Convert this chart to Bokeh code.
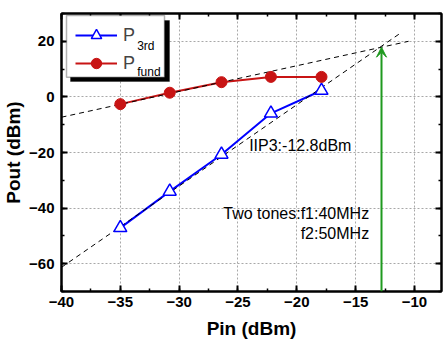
from bokeh.plotting import figure
from bokeh.models import (Range1d, LinearAxis, SingleIntervalTicker, Legend, LegendItem,
                          Label, BoxAnnotation, Arrow, VeeHead, CustomJSTickFormatter)
from bokeh.embed import file_html
from bokeh.resources import INLINE

# Two-tone measurement: input power sweep (dBm)
pin = [-35.0, -30.8, -26.4, -22.2, -17.9]
p_3rd = [-47.1, -34.0, -20.7, -5.9, 2.3]
p_fund = [-2.6, 1.5, 5.3, 7.2, 7.2]

# Extrapolated asymptotes (slope ~1 and ~3) used to find the intercept point
fund_fit_x = [-40.0, -10.5]
fund_fit_y = [-7.3, 20.0]
third_fit_x = [-40.0, -11.1]
third_fit_y = [-61.3, 23.2]

iip3 = -12.8
iip3_text = "IIP3:-12.8dBm"
tone_lines = ["Two tones:f1:40MHz", "f2:50MHz"]

FONT = "Liberation Sans"
BLUE = "#0000ff"
RED = "#c81414"
GREEN = "#1f9a1f"

p = figure(width=444, height=341, output_backend="svg", toolbar_location=None,
           x_range=Range1d(-40, -7.7), y_range=Range1d(-70, 30),
           min_border_left=61, min_border_right=3, min_border_top=13, min_border_bottom=50,
           x_axis_label="Pin (dBm)", y_axis_label="Pout (dBm)")
p.outline_line_color = "black"
p.outline_line_width = 2
p.background_fill_color = "white"
p.border_fill_color = "white"

xt = SingleIntervalTicker(interval=5, num_minor_ticks=2)
yt = SingleIntervalTicker(interval=20, num_minor_ticks=2)
p.xaxis.ticker = xt
p.yaxis.ticker = yt


def style_axis(ax, show_labels=True):
    ax.axis_line_width = 2
    ax.major_tick_in = 6
    ax.major_tick_out = 0
    ax.minor_tick_in = 3
    ax.minor_tick_out = 0
    ax.major_tick_line_width = 2
    ax.minor_tick_line_width = 1.5
    ax.major_label_text_font = FONT
    ax.major_label_text_font_style = "bold"
    ax.major_label_text_font_size = "15px"
    ax.major_label_text_color = "black"
    ax.axis_label_text_font = FONT
    ax.axis_label_text_font_style = "bold"
    ax.axis_label_text_font_size = "19px"
    ax.axis_label_text_color = "black"
    if not show_labels:
        ax.formatter = CustomJSTickFormatter(code="return ''")
        ax.major_label_text_font_size = "0px"
        ax.major_label_standoff = 0


style_axis(p.xaxis[0])
style_axis(p.yaxis[0])
p.xaxis[0].major_label_standoff = 5
p.xaxis[0].axis_label_standoff = 8
p.yaxis[0].major_label_standoff = 7
p.yaxis[0].axis_label_standoff = 2

top_ax = LinearAxis(ticker=SingleIntervalTicker(interval=5, num_minor_ticks=2))
right_ax = LinearAxis(ticker=SingleIntervalTicker(interval=20, num_minor_ticks=2))
style_axis(top_ax, show_labels=False)
style_axis(right_ax, show_labels=False)
p.add_layout(top_ax, "above")
p.add_layout(right_ax, "right")

for g in (p.xgrid[0], p.ygrid[0]):
    g.grid_line_color = "#a8a8a8"
    g.grid_line_dash = "2 2"
    g.grid_line_width = 1

# data lines
l3 = p.line(pin, p_3rd, line_color=BLUE, line_width=2)
lf = p.line(pin, p_fund, line_color=RED, line_width=2)

# extrapolation lines
p.line(fund_fit_x, fund_fit_y, line_color="black", line_width=1, line_dash="5 4")
p.line(third_fit_x, third_fit_y, line_color="black", line_width=1, line_dash="5 4")

s3 = p.scatter(pin, p_3rd, marker="triangle", size=13, line_color=BLUE,
               fill_color="white", line_width=1.5)
sf = p.scatter(pin, p_fund, marker="circle", size=11, line_color=RED, fill_color=RED)

# intercept: fundamental asymptote evaluated at IIP3
slope_f = (fund_fit_y[1] - fund_fit_y[0]) / (fund_fit_x[1] - fund_fit_x[0])
oip3 = fund_fit_y[0] + slope_f * (iip3 - fund_fit_x[0])
p.add_layout(Arrow(end=VeeHead(size=10, fill_color=GREEN, line_color=GREEN, line_width=1),
                   x_start=iip3, y_start=-70, x_end=iip3, y_end=oip3,
                   line_color=GREEN, line_width=2))

p.add_layout(Label(x=-24.05, y=-17.5, text=iip3_text, text_font=FONT,
                   text_font_size="16px", text_baseline="middle", text_color="black"))
p.add_layout(Label(x=-13.85, y=-41.8, text=tone_lines[0], text_font=FONT,
                   text_font_size="16px", text_baseline="middle", text_align="right",
                   text_color="black"))
p.add_layout(Label(x=-13.85, y=-49.1, text=tone_lines[1], text_font=FONT,
                   text_font_size="16px", text_baseline="middle", text_align="right",
                   text_color="black"))

# legend frame with drop shadow (screen units, relative to the plot frame)
FB = 278  # frame height in px
p.add_layout(BoxAnnotation(left=9, right=108, top=FB - 7, bottom=FB - 68,
                           left_units="screen", right_units="screen",
                           top_units="screen", bottom_units="screen",
                           fill_color="black", fill_alpha=1, line_color="black",
                           level="overlay"))
p.add_layout(BoxAnnotation(left=5, right=103, top=FB - 2, bottom=FB - 63.7,
                           left_units="screen", right_units="screen",
                           top_units="screen", bottom_units="screen",
                           fill_color="white", fill_alpha=1, line_color="black",
                           line_width=1.5, level="overlay"))

legend = Legend(items=[LegendItem(label="P", renderers=[l3, s3]),
                       LegendItem(label="P", renderers=[lf, sf])],
                location=(14, FB - 63), padding=0, spacing=2, glyph_width=42,
                glyph_height=26, label_standoff=6, label_text_font=FONT,
                label_text_font_size="18px", border_line_color=None,
                background_fill_alpha=0, margin=0)
p.add_layout(legend)

for txt, yb in (("3rd", FB - 32.3), ("fund", FB - 58.7)):
    p.add_layout(Label(x=75.7, y=yb, x_units="screen", y_units="screen", text=txt,
                       text_font=FONT, text_font_size="12px", level="overlay",
                       text_baseline="alphabetic", text_color="black"))

open("out.html", "w").write(file_html(p, INLINE))
